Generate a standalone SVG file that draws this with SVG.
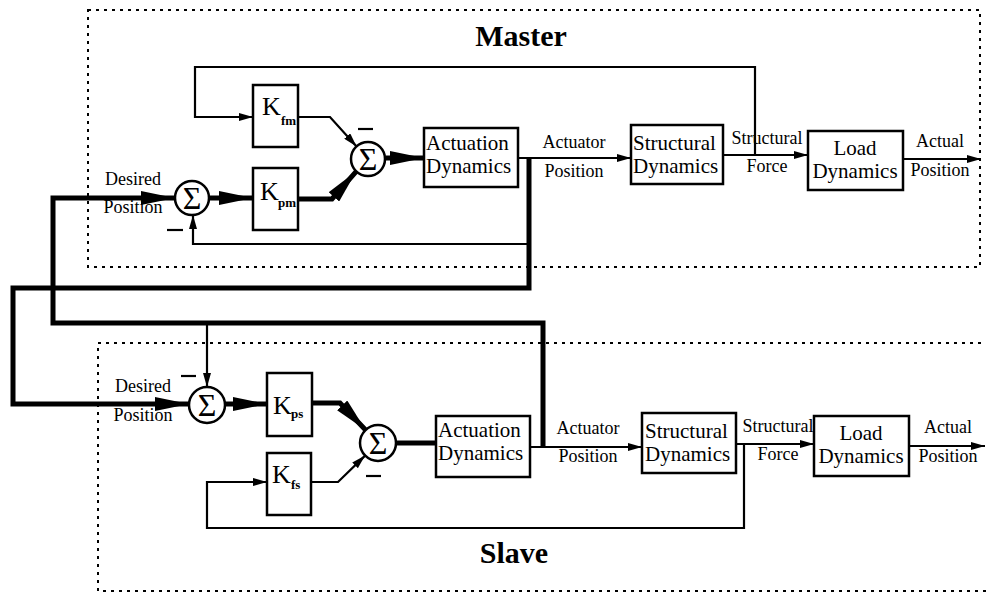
<svg xmlns="http://www.w3.org/2000/svg" width="986" height="593" viewBox="0 0 986 593">
  <style>
    .frame { fill: none; stroke: #000; stroke-width: 2; stroke-dasharray: 3 5; }
    .box { fill: #fff; stroke: #000; stroke-width: 2.5; }
    .sum { fill: #fff; stroke: #000; stroke-width: 2.5; }
    .thin { fill: none; stroke: #000; stroke-width: 2.2; }
    .thick { fill: none; stroke: #000; stroke-width: 5; }
    .minus { stroke: #000; stroke-width: 2.2; }
    text { font-family: "Liberation Serif", "Times New Roman", serif; fill: #000; }
    .blk { font-size: 21px; }
    .lbl { font-size: 18px; text-anchor: middle; }
    .ttl { font-size: 30px; font-weight: bold; text-anchor: middle; }
    .gain { font-size: 26px; }
    .sub { font-size: 13px; font-weight: bold; }
    .sig { font-size: 32px; text-anchor: middle; }
  </style>
  <defs>
    <marker id="arrS" markerUnits="userSpaceOnUse" markerWidth="14" markerHeight="8" refX="14" refY="4" orient="auto">
      <path d="M0,0 L14,4 L0,8 z" fill="#000"/>
    </marker>
    <marker id="arrL" markerUnits="userSpaceOnUse" markerWidth="34" markerHeight="14" refX="34" refY="7" orient="auto">
      <path d="M0,0 L34,7 L0,14 z" fill="#000"/>
    </marker>
  </defs>

  <rect id="master-frame" class="frame" x="88" y="10" width="892" height="257"/>
  <rect id="slave-frame" class="frame" x="98" y="343" width="900" height="248"/>
  <text class="ttl" x="521" y="46">Master</text>
  <text class="ttl" x="514" y="563">Slave</text>

  <g id="connectors">
    <!-- master loop -->
    <path class="thin" d="M755,155 L755,67 L195,67 L195,117 L253,117" marker-end="url(#arrS)"/>
    <path class="thin" d="M298,117 L330,117 L356.6,146.4" marker-end="url(#arrS)"/>
    <path class="thick" d="M298,199 L332,199 L356.3,171.3" marker-end="url(#arrL)"/>
    <path class="thick" d="M210,198 L253,198" marker-end="url(#arrL)"/>
    <path class="thick" d="M386,158 L424,158" marker-end="url(#arrL)"/>
    <path class="thin" d="M518,158 L631,158" marker-end="url(#arrS)"/>
    <path class="thin" d="M723,155 L808,155" marker-end="url(#arrS)"/>
    <path class="thin" d="M903,159 L981,159" marker-end="url(#arrS)"/>
    <path class="thin" d="M529,244 L193,244 L193,215" marker-end="url(#arrS)"/>

    <!-- cross couplings -->
    <path class="thick" d="M529,158 L529,288 L13,288 L13,404 L189,404" marker-end="url(#arrL)"/>
    <path class="thick" d="M543,447 L543,323 L53,323 L53,198 L175,198" marker-end="url(#arrL)"/>
    <path class="thin" d="M207,323 L207,387" marker-end="url(#arrS)"/>

    <!-- slave loop -->
    <path class="thick" d="M225,404 L267,404" marker-end="url(#arrL)"/>
    <path class="thick" d="M312,403 L340,403 L365.6,430" marker-end="url(#arrL)"/>
    <path class="thin" d="M311,482 L338,482 L365.1,455.6" marker-end="url(#arrS)"/>
    <path class="thick" d="M396,443 L436,443"/>
    <path class="thin" d="M530,447 L642,447" marker-end="url(#arrS)"/>
    <path class="thin" d="M736,444 L814,444" marker-end="url(#arrS)"/>
    <path class="thin" d="M909,446 L985,446" marker-end="url(#arrS)"/>
    <path class="thin" d="M744,444 L744,528 L207,528 L207,482 L267,482" marker-end="url(#arrS)"/>
  </g>

  <!-- master blocks -->
  <g id="m-sum1">
    <circle class="sum" cx="192" cy="198" r="17"/>
    <text class="sig" x="192" y="209">Σ</text>
    <line class="minus" x1="167" y1="230" x2="183" y2="230"/>
  </g>
  <g id="m-kfm">
    <rect class="box" x="253" y="85" width="45" height="62"/>
    <text class="gain" x="262" y="115">K</text>
    <text class="sub" x="281" y="125">fm</text>
  </g>
  <g id="m-kpm">
    <rect class="box" x="253" y="168" width="45" height="62"/>
    <text class="gain" x="260" y="200">K</text>
    <text class="sub" x="278" y="207">pm</text>
  </g>
  <g id="m-sum2">
    <circle class="sum" cx="368" cy="159" r="17"/>
    <text class="sig" x="368" y="170">Σ</text>
    <line class="minus" x1="358" y1="129" x2="373" y2="129"/>
  </g>
  <g id="m-actuation">
    <rect class="box" x="424" y="128" width="94" height="59"/>
    <text class="blk" x="426" y="150">Actuation</text>
    <text class="blk" x="426" y="173">Dynamics</text>
  </g>
  <g id="m-structural">
    <rect class="box" x="631" y="125" width="92" height="59"/>
    <text class="blk" x="633" y="150">Structural</text>
    <text class="blk" x="633" y="173">Dynamics</text>
  </g>
  <g id="m-load">
    <rect class="box" x="808" y="131" width="95" height="59"/>
    <text class="blk" x="855" y="155" text-anchor="middle">Load</text>
    <text class="blk" x="855" y="178" text-anchor="middle">Dynamics</text>
  </g>

  <!-- master signal labels -->
  <g id="m-labels">
    <text class="lbl" x="133" y="185">Desired</text>
    <text class="lbl" x="133" y="213">Position</text>
    <text class="lbl" x="574" y="148">Actuator</text>
    <text class="lbl" x="574" y="177">Position</text>
    <text class="lbl" x="767" y="144">Structural</text>
    <text class="lbl" x="767" y="172">Force</text>
    <text class="lbl" x="940" y="147">Actual</text>
    <text class="lbl" x="940" y="176">Position</text>
  </g>

  <!-- slave blocks -->
  <g id="s-sum1">
    <circle class="sum" cx="207" cy="405" r="18"/>
    <text class="sig" x="207" y="416">Σ</text>
    <line class="minus" x1="181" y1="376" x2="196" y2="376"/>
  </g>
  <g id="s-kps">
    <rect class="box" x="267" y="373" width="45" height="63"/>
    <text class="gain" x="273" y="414">K</text>
    <text class="sub" x="291" y="418">ps</text>
  </g>
  <g id="s-kfs">
    <rect class="box" x="267" y="453" width="44" height="62"/>
    <text class="gain" x="272" y="483">K</text>
    <text class="sub" x="291" y="489">fs</text>
  </g>
  <g id="s-sum2">
    <circle class="sum" cx="378" cy="443" r="18"/>
    <text class="sig" x="378" y="454">Σ</text>
    <line class="minus" x1="366" y1="476" x2="381" y2="476"/>
  </g>
  <g id="s-actuation">
    <rect class="box" x="436" y="416" width="94" height="61"/>
    <text class="blk" x="438" y="437">Actuation</text>
    <text class="blk" x="438" y="460">Dynamics</text>
  </g>
  <g id="s-structural">
    <rect class="box" x="642" y="413" width="94" height="60"/>
    <text class="blk" x="645" y="438">Structural</text>
    <text class="blk" x="645" y="461">Dynamics</text>
  </g>
  <g id="s-load">
    <rect class="box" x="814" y="416" width="95" height="60"/>
    <text class="blk" x="861" y="440" text-anchor="middle">Load</text>
    <text class="blk" x="861" y="463" text-anchor="middle">Dynamics</text>
  </g>

  <!-- slave signal labels -->
  <g id="s-labels">
    <text class="lbl" x="143" y="392">Desired</text>
    <text class="lbl" x="143" y="421">Position</text>
    <text class="lbl" x="588" y="434">Actuator</text>
    <text class="lbl" x="588" y="462">Position</text>
    <text class="lbl" x="778" y="432">Structural</text>
    <text class="lbl" x="778" y="460">Force</text>
    <text class="lbl" x="948" y="433">Actual</text>
    <text class="lbl" x="948" y="462">Position</text>
  </g>
</svg>
